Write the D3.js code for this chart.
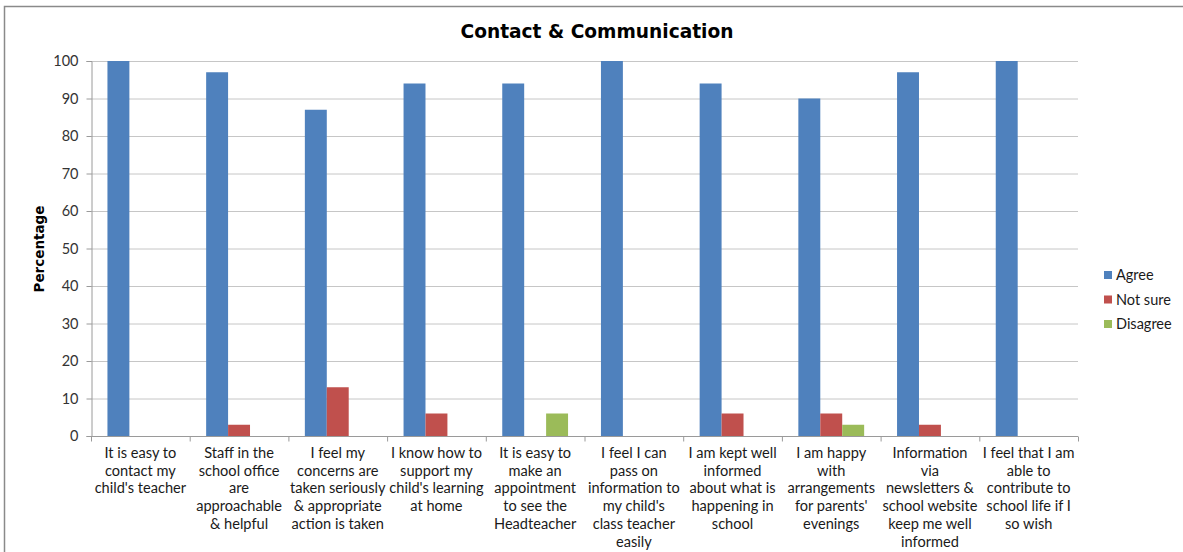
<!DOCTYPE html>
<html>
<head>
<meta charset="utf-8">
<script src="https://cdn.jsdelivr.net/npm/d3@7"></script>
<style>
  html, body { margin: 0; padding: 0; background: #fff; }
  svg { display: block; }
</style>
</head>
<body>
<svg id="chart" width="1183" height="552"></svg>
<script>
const categories = [
  "It is easy to\ncontact my\nchild's teacher",
  "Staff in the\nschool office\nare\napproachable\n& helpful",
  "I feel my\nconcerns are\ntaken seriously\n& appropriate\naction is taken",
  "I know how to\nsupport my\nchild's learning\nat home",
  "It is easy to\nmake an\nappointment\nto see the\nHeadteacher",
  "I feel I can\npass on\ninformation to\nmy child's\nclass teacher\neasily",
  "I am kept well\ninformed\nabout what is\nhappening in\nschool",
  "I am happy\nwith\narrangements\nfor parents'\nevenings",
  "Information\nvia\nnewsletters &\nschool website\nkeep me well\ninformed",
  "I feel that I am\nable to\ncontribute to\nschool life if I\nso wish"
];
const seriesNames = ["Agree", "Not sure", "Disagree"];
const agree    = [100, 97, 87, 94, 94, 100, 94, 90, 97, 100];
const notSure  = [0, 3, 13, 6, 0, 0, 6, 6, 3, 0];
const disagree = [0, 0, 0, 0, 6, 0, 0, 3, 0, 0];
const yTicks = [0, 10, 20, 30, 40, 50, 60, 70, 80, 90, 100];
const colors = ["#4F81BD", "#C0504D", "#9BBB59"];
const titleText = "Contact & Communication";
const yLabel = "Percentage";

(function () {
const seriesValues = [agree, notSure, disagree];
const svg = d3.select("#chart");

const pLeft = 91, pRight = 1078, pTop = 61, pBottom = 436;
const font = "Lato, 'Liberation Sans', sans-serif";

// outer border
svg.append("rect").attr("x", 4.5).attr("y", 6.5).attr("width", 1300).attr("height", 700)
  .attr("fill", "none").attr("stroke", "#8a8a8a").attr("stroke-width", 1.5);

const x = d3.scaleBand().domain(d3.range(categories.length)).range([pLeft, pRight]).paddingInner(0).paddingOuter(0);
const groupPad = x.bandwidth() / (3 + 1.5) * 0.75;
const xs = d3.scaleBand().domain(d3.range(3)).range([groupPad, x.bandwidth() - groupPad]);
const y = d3.scaleLinear().domain([0, 100]).range([pBottom, pTop]);

// gridlines
svg.append("g").selectAll("line").data(yTicks.filter(d => d > 0)).join("line")
  .attr("x1", pLeft).attr("x2", pRight)
  .attr("y1", d => y(d) + 0.5).attr("y2", d => y(d) + 0.5)
  .attr("stroke", "#c6c6c6").attr("stroke-width", 1);

// y axis
const yAxis = svg.append("g").attr("transform", `translate(${pLeft + 0.5},0)`)
  .call(d3.axisLeft(y).tickValues(yTicks).tickSize(5).tickPadding(8));
yAxis.select(".domain").attr("stroke", "#9a9a9a");
yAxis.selectAll(".tick line").attr("stroke", "#9a9a9a");
yAxis.selectAll("text").attr("font-family", font)
  .attr("font-size", 14.5).attr("fill", "#333");

// bars
const groups = svg.append("g").selectAll("g").data(categories).join("g")
  .attr("transform", (d, i) => `translate(${x(i)},0)`);
groups.selectAll("rect").data((d, i) => seriesValues.map((s, k) => ({k, v: s[i]})))
  .join("rect")
  .attr("x", d => xs(d.k))
  .attr("width", xs.bandwidth())
  .attr("y", d => y(d.v))
  .attr("height", d => y(0) - y(d.v))
  .attr("fill", d => colors[d.k]);

// x axis
const xAxis = svg.append("g").attr("transform", `translate(0,${pBottom + 0.5})`);
xAxis.append("line").attr("x1", pLeft).attr("x2", pRight).attr("stroke", "#9a9a9a");
xAxis.selectAll("line.tk").data(d3.range(categories.length + 1)).join("line")
  .attr("class", "tk")
  .attr("x1", i => pLeft + i * x.step() + 0.5).attr("x2", i => pLeft + i * x.step() + 0.5)
  .attr("y1", 0).attr("y2", 5).attr("stroke", "#9a9a9a");

const labels = svg.append("g").selectAll("text").data(categories).join("text")
  .attr("x", (d, i) => x(i) + x.bandwidth() / 2)
  .attr("y", pBottom + 22)
  .attr("text-anchor", "middle")
  .attr("font-family", font)
  .attr("font-size", 14.6).attr("fill", "#1a1a1a");
labels.each(function(d) {
  const t = d3.select(this);
  d.split("\n").forEach((line, j) => {
    t.append("tspan").attr("x", t.attr("x")).attr("dy", j === 0 ? 0 : 17.7).text(line);
  });
});

// title
svg.append("text").attr("x", 597).attr("y", 38).attr("text-anchor", "middle")
  .attr("font-family", "'Comic Sans MS', 'DejaVu Sans', sans-serif")
  .attr("font-weight", "bold").attr("font-size", 18.6).attr("fill", "#000")
  .text(titleText);

// y label
svg.append("text").attr("transform", "translate(44,249) rotate(-90)")
  .attr("text-anchor", "middle")
  .attr("font-family", "'Comic Sans MS', 'DejaVu Sans', sans-serif")
  .attr("font-weight", "bold").attr("font-size", 13.5).attr("fill", "#000")
  .text(yLabel);

// legend
const legend = svg.append("g").selectAll("g").data(seriesNames).join("g")
  .attr("transform", (d, i) => `translate(1104,${275 + i * 24.5})`);
legend.append("rect").attr("x", 0).attr("y", -4).attr("width", 8).attr("height", 8)
  .attr("fill", (d, i) => colors[i]);
legend.append("text").attr("x", 12).attr("y", 0).attr("dy", "0.35em")
  .attr("font-family", font)
  .attr("font-size", 14.5).attr("fill", "#1a1a1a").text(d => d);
})();
</script>
</body>
</html>
